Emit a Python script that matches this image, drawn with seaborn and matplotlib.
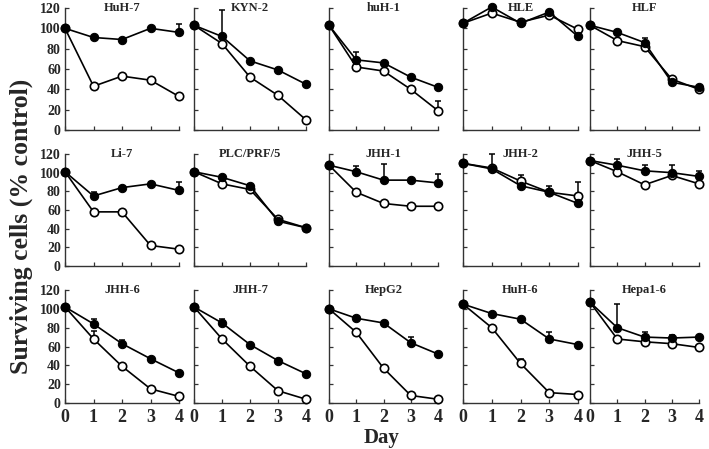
import numpy as np
import pandas as pd
import matplotlib
matplotlib.use('Agg')
import matplotlib.pyplot as plt
import seaborn as sns

# Values (surviving cells, % of control)
days = [0, 1, 2, 3, 4]
cell_lines = ['HuH-7', 'KYN-2', 'huH-1', 'HLE', 'HLF',
              'Li-7', 'PLC/PRF/5', 'JHH-1', 'JHH-2', 'JHH-5',
              'JHH-6', 'JHH-7', 'HepG2', 'HuH-6', 'Hepa1-6']

filled_vals = [[100, 91, 89, 100, 96],
               [103, 92, 68, 59, 45],
               [103, 69, 66, 52, 42],
               [105, 121, 105, 116, 92],
               [103, 96, 86, 47, 42],
               [101, 75, 84, 88, 81],
               [101, 95, 86, 48, 41],
               [108, 101, 92, 92, 89],
               [110, 104, 86, 79, 67],
               [113, 108, 102, 100, 96],
               [102, 84, 63, 47, 32],
               [102, 85, 62, 45, 31],
               [100, 90, 85, 64, 52],
               [105, 95, 89, 68, 62],
               [107, 80, 70, 69, 70]]

open_vals = [[100, 43, 53, 49, 33],
             [103, 85, 52, 34, 10],
             [103, 62, 58, 40, 19],
             [105, 115, 106, 113, 99],
             [103, 88, 82, 50, 40],
             [101, 58, 58, 22, 18],
             [101, 88, 82, 50, 41],
             [108, 79, 67, 64, 64],
             [110, 105, 91, 79, 75],
             [113, 101, 87, 97, 88],
             [102, 68, 39, 15, 7],
             [102, 68, 39, 13, 4],
             [100, 75, 37, 8, 4],
             [105, 80, 42, 11, 9],
             [107, 68, 65, 63, 59]]

# upper error bars only (0 = none drawn)
filled_err = [[0, 0, 0, 0, 8],
              [0, 26, 0, 0, 0],
              [0, 8, 0, 0, 0],
              [0, 0, 0, 0, 0],
              [0, 0, 4, 0, 0],
              [0, 4, 0, 2, 9],
              [0, 0, 2, 0, 0],
              [0, 6, 17, 0, 10],
              [0, 0, 0, 7, 0],
              [0, 7, 6, 8, 6],
              [0, 5, 4, 0, 0],
              [0, 4, 2, 0, 0],
              [0, 2, 0, 6, 0],
              [0, 0, 0, 7, 0],
              [0, 25, 5, 3, 0]]

open_err = [[0, 0, 0, 0, 0],
            [0, 0, 0, 0, 0],
            [0, 0, 0, 0, 10],
            [0, 0, 0, 0, 0],
            [0, 0, 0, 2, 0],
            [0, 0, 0, 0, 0],
            [0, 0, 0, 0, 0],
            [0, 0, 0, 0, 0],
            [0, 15, 6, 0, 15],
            [0, 0, 0, 0, 0],
            [0, 8, 2, 0, 0],
            [0, 0, 0, 0, 0],
            [0, 0, 0, 0, 0],
            [0, 0, 5, 0, 0],
            [0, 0, 0, 0, 0]]

# long table for seaborn
rows = []
for i, name in enumerate(cell_lines):
    for j, d in enumerate(days):
        rows.append([name, 'filled', d, filled_vals[i][j], filled_err[i][j]])
        rows.append([name, 'open', d, open_vals[i][j], open_err[i][j]])
df = pd.DataFrame(rows, columns=['Line', 'Series', 'Day', 'Surv', 'Err'])

sns.set_style('ticks')
plt.rcParams['font.family'] = ['Liberation Serif', 'DejaVu Serif']
plt.rcParams['font.weight'] = 'bold'

W, H = 709, 449
fig = plt.figure(figsize=(W / 100, H / 100), dpi=100)

# panel placement in pixels (x at day 0 / day 4, y at 0 / 120)
col_x = [(65, 179), (194, 306), (329, 438), (463, 578), (590, 699)]
row_y = [(130, 8), (266, 154), (403, 290)]

for k, name in enumerate(cell_lines):
    r, c = divmod(k, 5)
    x0, x1 = col_x[c]
    yb, yt = row_y[r]
    ax = fig.add_axes([x0 / W, 1 - yb / H, (x1 - x0) / W, (yb - yt) / H])
    sub = df[df['Line'] == name]
    fsub = sub[sub['Series'] == 'filled']
    osub = sub[sub['Series'] == 'open']

    for s in (fsub, osub):
        e = s[s['Err'] > 0]
        if len(e):
            ax.errorbar(e['Day'], e['Surv'], yerr=[np.zeros(len(e)), e['Err']],
                        fmt='none', ecolor='black', elinewidth=1.1,
                        capsize=2.5, capthick=1.1, zorder=1, clip_on=False)

    sns.lineplot(data=osub, x='Day', y='Surv', ax=ax, color='black',
                 lw=1.2, marker='o', markersize=6, markerfacecolor='white',
                 markeredgecolor='black', markeredgewidth=1.2, zorder=3,
                 clip_on=False)
    sns.lineplot(data=fsub, x='Day', y='Surv', ax=ax, color='black',
                 lw=1.2, marker='o', markersize=6, markerfacecolor='black',
                 markeredgecolor='black', zorder=4, clip_on=False)

    ax.set_xlim(0, 4)
    ax.set_ylim(0, 120)
    ax.set_xticks(days)
    ax.set_yticks(range(0, 121, 20))
    ax.tick_params(direction='in', length=3, width=0.9, color='#333333')
    ax.tick_params(axis='x', labelsize=13, pad=4)
    ax.tick_params(axis='y', labelsize=10, pad=3)
    if c != 0:
        ax.set_yticklabels([])
    if r != 2:
        ax.set_xticklabels([])
    ax.set_xlabel('')
    ax.set_ylabel('')
    for sp in ('top', 'right'):
        ax.spines[sp].set_visible(False)
    for sp in ('left', 'bottom'):
        ax.spines[sp].set_linewidth(1.0)
        ax.spines[sp].set_color('#333333')
    ax.text(0.5, 1.0, name, transform=ax.transAxes, ha='center', va='center',
            fontsize=9, fontweight='bold')

fig.text(21 / W, 1 - 226 / H, 'Surviving cells (% control)', rotation=90,
         ha='center', va='center', fontsize=18.5, fontweight='bold')
fig.text(382 / W, 1 - 438 / H, 'Day', ha='center', va='center',
         fontsize=15, fontweight='bold')

fig.savefig('out.png', dpi=100)
